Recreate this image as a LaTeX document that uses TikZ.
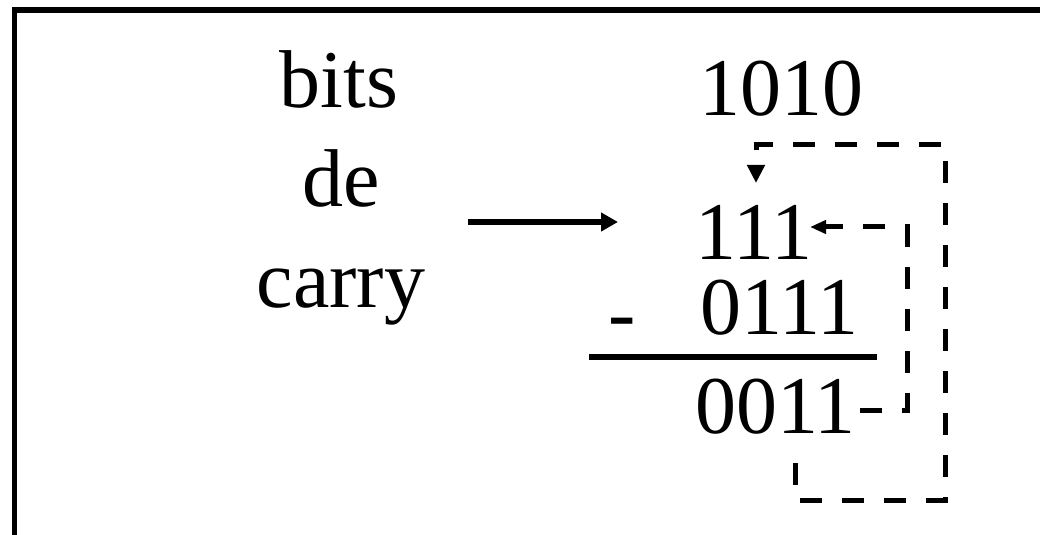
\documentclass[tikz,border=0pt]{standalone}
\usepackage{fontspec}
\setmainfont{Liberation Serif}
\usetikzlibrary{arrows.meta}
\begin{document}
\begin{tikzpicture}[x=1bp,y=-1bp,
  big/.style={inner sep=0pt,font=\fontsize{82bp}{98bp}\selectfont},
  frameline/.style={line width=5.5bp},
  solidline/.style={line width=6bp},
  dashline/.style={line width=5bp,dash pattern=on 22bp off 20bp},
  downtip/.style={-{Triangle[length=18bp,width=17bp]}},
  lefttip/.style={-{Triangle[length=16bp,width=13bp]}},
  righttip/.style={-{Triangle[length=17bp,width=18bp]}}]
\clip (0,0) rectangle (1040,535);
\fill[white] (0,0) rectangle (1040,535);
% open frame running off the right and bottom edges
\draw[frameline] (14.5,600) -- (14.5,10) -- (1100,10);

% left label
\node[big,anchor=base] (bits)  at (339,108) {bits};
\node[big,anchor=base] (de)    at (341,207) {de};
\node[big,anchor=base] (carry) at (341,308) {carry};

% the subtraction
\node[big,anchor=base] (borrow) at (781,116) {1010};
\node[big,anchor=base] (carries) at (754,260) {111};
\node[big,anchor=base] (subtr) at (779.5,335) {0111};
\node[big,anchor=base] (minus) at (622,341) {-};
\node[big,anchor=base] (result) at (775.5,433) {0011};

% pointer from the label to the carry row
\coordinate (a0) at (468,222);
\coordinate (a1) at (618,222);
\draw[solidline,righttip] (a0) -- (a1);

% result rule
\coordinate (r0) at (589,357);
\coordinate (r1) at (877,357);
\draw[solidline] (r0) -- (r1);

% inner carry loop
\coordinate (i0) at (860,410);
\coordinate (i1) at (907,410);
\coordinate (i2) at (907,227);
\coordinate (i3) at (810,227);
\draw[dashline,lefttip] (i0) -- (i1) -- (i2) -- (i3);

% outer carry loop
\coordinate (o0) at (795,463);
\coordinate (o1) at (795,500);
\coordinate (o2) at (945,500);
\coordinate (o3) at (945,145);
\coordinate (o4) at (756,145);
\coordinate (o5) at (756,183);
\draw[dashline,downtip] (o0) -- (o1) -- (o2) -- (o3) -- (o4) -- (o5);
\end{tikzpicture}
\end{document}
